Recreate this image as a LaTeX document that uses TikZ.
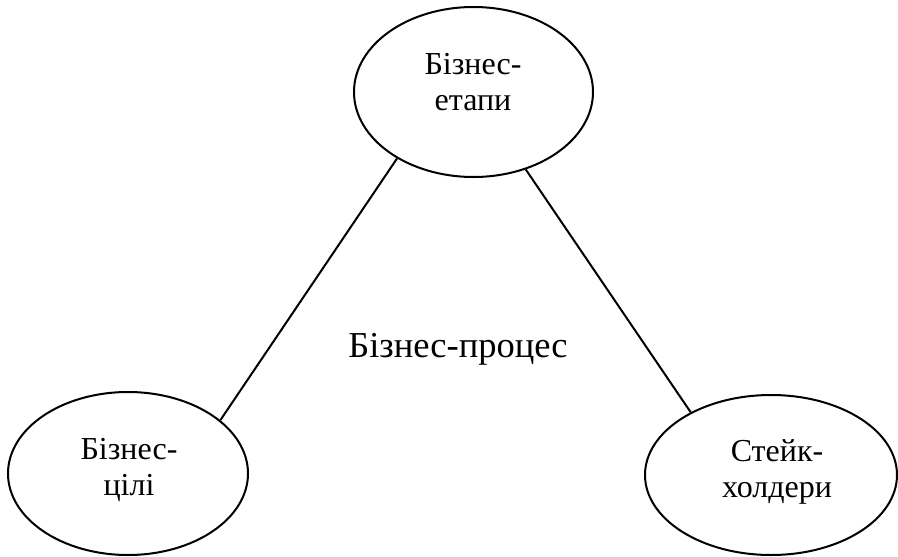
\documentclass[tikz,border=0pt]{standalone}
\usepackage{fontspec}
\setmainfont{Liberation Serif}
\usetikzlibrary{shapes.geometric}
\tikzset{
  oval/.style={draw=black, line width=2pt, ellipse, inner sep=0pt},
  lbl/.style={align=center, inner sep=0pt, font=\fontsize{32}{36}\selectfont},
  link/.style={draw=black, line width=2pt}
}
\begin{document}
\begin{tikzpicture}[x=1pt,y=-1pt]
\useasboundingbox (0,0) rectangle (898,557);
\fill[white] (0,0) rectangle (898,557);
\node[oval, minimum width=239pt, minimum height=170pt] (top) at (473.5,92) {};
\node[oval, minimum width=240pt, minimum height=163pt] (bl) at (128,473.5) {};
\node[oval, minimum width=252pt, minimum height=160pt] (br) at (771,475) {};
\node[lbl, anchor=base] (ttop) at (473,110) {Бізнес-\\етапи};
\node[lbl, anchor=base] (tbl) at (129,495) {Бізнес-\\цілі};
\node[lbl, anchor=base] (tbr) at (777,497) {Стейк-\\холдери};
\node[inner sep=0pt, anchor=base, font=\fontsize{36.5}{42}\selectfont] (proc) at (458,357) {Бізнес-процес};
\draw[link] (top.221.6) -- (bl.30.2);
\draw[link] (top.-56.2) -- (br.142.1);
\end{tikzpicture}
\end{document}
